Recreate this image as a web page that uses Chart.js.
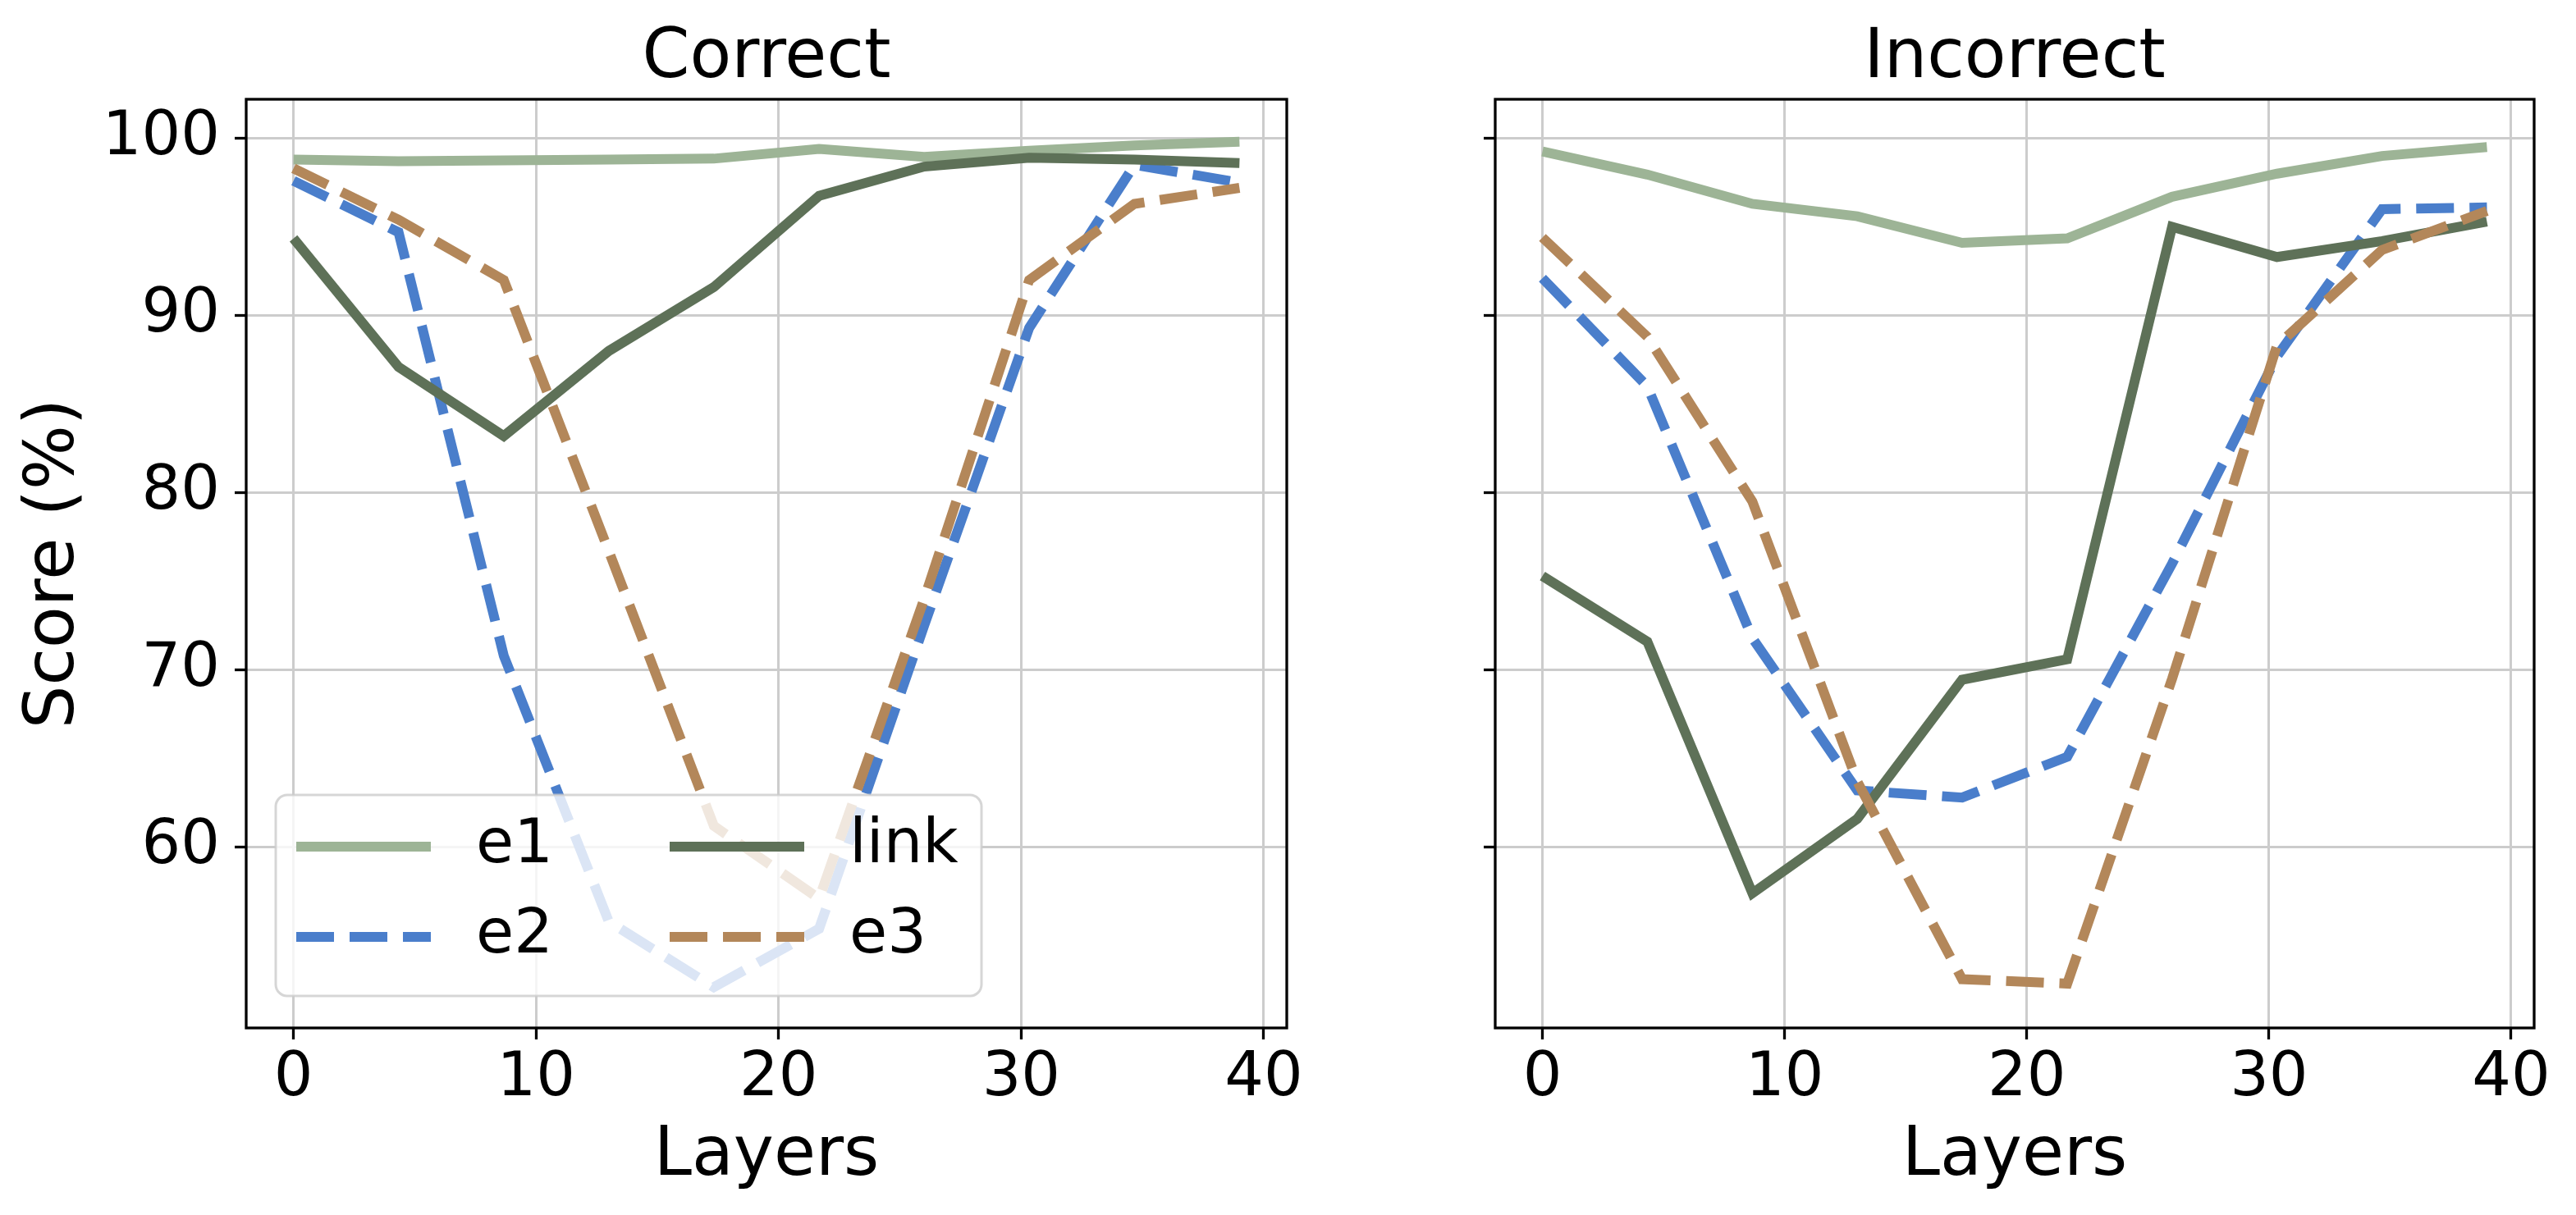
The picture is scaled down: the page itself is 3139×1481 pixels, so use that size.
<!DOCTYPE html>
<html>
<head>
<meta charset="utf-8">
<script src="https://cdn.jsdelivr.net/npm/chart.js@4.4.1/dist/chart.umd.min.js"></script>
<style>
  body { margin: 0; background: #fff; }
  #wrap { position: relative; width: 3139px; height: 1481px; background: #fff; }
  canvas { position: absolute; top: 0; }
</style>
</head>
<body>
<div id="wrap">
  <canvas id="left" width="1600" height="1481" style="left:0px"></canvas>
  <canvas id="right" width="1539" height="1481" style="left:1600px"></canvas>
</div>
<script>
// layer positions and axis ticks
const layers = [0, 4.33, 8.67, 13, 17.33, 21.67, 26, 30.33, 34.67, 39];
const xTicks = [0, 10, 20, 30, 40];
const yTicks = [60, 70, 80, 90, 100];

// "Correct" panel
const correctE1   = [98.8, 98.7, 98.75, 98.8, 98.85, 99.4, 98.95, 99.3, 99.6, 99.8];
const correctE2   = [97.6, 94.7, 70.8, 55.8, 52.1, 55.4, 72.5, 89.3, 98.5, 97.5];
const correctE3   = [98.3, 95.4, 92.0, 76.7, 61.2, 57.1, 74.0, 92.0, 96.3, 97.2];
const correctLink = [94.35, 87.1, 83.2, 88.0, 91.6, 96.75, 98.4, 98.9, 98.8, 98.6];

// "Incorrect" panel
const incorrectE1   = [99.25, 97.95, 96.3, 95.6, 94.1, 94.35, 96.7, 98.0, 99.0, 99.5];
const incorrectE2   = [92.1, 86.0, 71.8, 63.2, 62.8, 65.1, 76.0, 87.7, 96.0, 96.1];
const incorrectE3   = [94.4, 88.8, 79.5, 63.7, 52.55, 52.3, 69.5, 88.3, 93.7, 95.9];
const incorrectLink = [75.3, 71.6, 57.4, 61.6, 69.45, 70.6, 95.0, 93.3, 94.2, 95.3];

const colors = { e1: '#9db496', e2: '#4a7ecb', e3: '#b3875a', link: '#5e7158' };
const LW = 12;
const DASH = [46, 19];

Chart.defaults.font.family = "'DejaVu Sans', sans-serif";
Chart.defaults.color = '#000';

function pts(vals) {
  return layers.map((x, i) => ({ x: x, y: vals[i] }));
}

function makeSets(e1, e2, e3, link) {
  // matplotlib plot order: e1, e2, link, e3 (e3 on top)
  return [
    { label: 'e1', data: pts(e1), borderColor: colors.e1, order: 4 },
    { label: 'e2', data: pts(e2), borderColor: colors.e2, borderDash: DASH, order: 3 },
    { label: 'link', data: pts(link), borderColor: colors.link, order: 2 },
    { label: 'e3', data: pts(e3), borderColor: colors.e3, borderDash: DASH, order: 1 }
  ].map(d => Object.assign(d, { borderWidth: LW, pointRadius: 0, fill: false, clip: 0, borderCapStyle: 'butt', borderJoinStyle: 'miter' }));
}

// box around the plot area, like matplotlib spines
const frame = {
  id: 'frame',
  afterDatasetsDraw(chart) {
    const { ctx, chartArea: a } = chart;
    ctx.save();
    ctx.strokeStyle = '#000';
    ctx.lineWidth = 3.3;
    ctx.strokeRect(a.left, a.top, a.right - a.left, a.bottom - a.top);
    ctx.restore();
  }
};

// legend in lower left of the plot, two columns, semi transparent box
const boxLegend = {
  id: 'boxLegend',
  afterDatasetsDraw(chart) {
    const { ctx, chartArea: a } = chart;
    const x0 = a.left + 36, x1 = a.left + 896;
    const y1 = a.bottom - 39, y0 = y1 - 245;
    ctx.save();
    ctx.beginPath();
    ctx.roundRect(x0, y0, x1 - x0, y1 - y0, 14);
    ctx.fillStyle = 'rgba(255,255,255,0.8)';
    ctx.fill();
    ctx.strokeStyle = 'rgba(204,204,204,0.8)';
    ctx.lineWidth = 3;
    ctx.stroke();

    const byLabel = {};
    chart.data.datasets.forEach(d => { byLabel[d.label] = d; });
    const rows = [['e1', 'link'], ['e2', 'e3']];
    const rowY = [y0 + 63, y0 + 173];
    const colX = [x0 + 25, x0 + 480];
    ctx.font = "75px 'DejaVu Sans'";
    ctx.textBaseline = 'middle';
    ctx.textAlign = 'left';
    rows.forEach((row, r) => {
      row.forEach((lab, c) => {
        const d = byLabel[lab];
        ctx.beginPath();
        ctx.setLineDash(d.borderDash || []);
        ctx.lineCap = 'butt';
        ctx.strokeStyle = d.borderColor;
        ctx.lineWidth = LW;
        ctx.moveTo(colX[c], rowY[r]);
        ctx.lineTo(colX[c] + 164, rowY[r]);
        ctx.stroke();
        ctx.setLineDash([]);
        ctx.fillStyle = '#000';
        ctx.fillText(lab, colX[c] + 219, rowY[r]);
      });
    });
    ctx.restore();
  }
};

function makeChart(id, title, sets, yWidth, showY, plugins) {
  return new Chart(document.getElementById(id), {
    type: 'line',
    data: { datasets: sets },
    options: {
      responsive: false,
      animation: false,
      events: [],
      layout: { padding: { left: 0, top: 0, bottom: 0, right: id === 'left' ? 32 : 51 } },
      plugins: {
        legend: { display: false },
        tooltip: { enabled: false },
        title: {
          display: true, text: title, fullSize: false,
          font: { size: 83, weight: 'normal', lineHeight: 1.0 }, color: '#000',
          padding: { top: 30.5, bottom: 7.5 }
        }
      },
      scales: {
        x: {
          type: 'linear', min: -1.95, max: 40.95,
          afterBuildTicks: s => { s.ticks = xTicks.map(v => ({ value: v })); },
          afterFit: s => { s.height = 228; },
          ticks: { font: { size: 75 }, padding: 4, maxRotation: 0, color: '#000' },
          grid: { color: '#cccccc', lineWidth: 3, tickLength: 14, tickColor: '#000', tickWidth: 3.3 },
          border: { display: false },
          title: { display: true, text: 'Layers', font: { size: 83 }, color: '#000', padding: { top: 0, bottom: 21 } }
        },
        y: {
          type: 'linear', min: 49.8, max: 102.2,
          afterBuildTicks: s => { s.ticks = yTicks.map(v => ({ value: v })); },
          afterFit: s => { s.width = yWidth; },
          ticks: { font: { size: 75 }, padding: 18, color: '#000', callback: v => showY ? String(v) : '' },
          grid: { color: '#cccccc', lineWidth: 3, tickLength: 14, tickColor: '#000', tickWidth: 3.3 },
          border: { display: false },
          title: { display: showY, text: 'Score (%)', font: { size: 83 }, color: '#000', padding: { top: 18, bottom: 0 } }
        }
      }
    },
    plugins: plugins
  });
}

makeChart('left', 'Correct', makeSets(correctE1, correctE2, correctE3, correctLink), 300, true, [frame, boxLegend]);
makeChart('right', 'Incorrect', makeSets(incorrectE1, incorrectE2, incorrectE3, incorrectLink), 222, false, [frame]);
</script>
</body>
</html>
